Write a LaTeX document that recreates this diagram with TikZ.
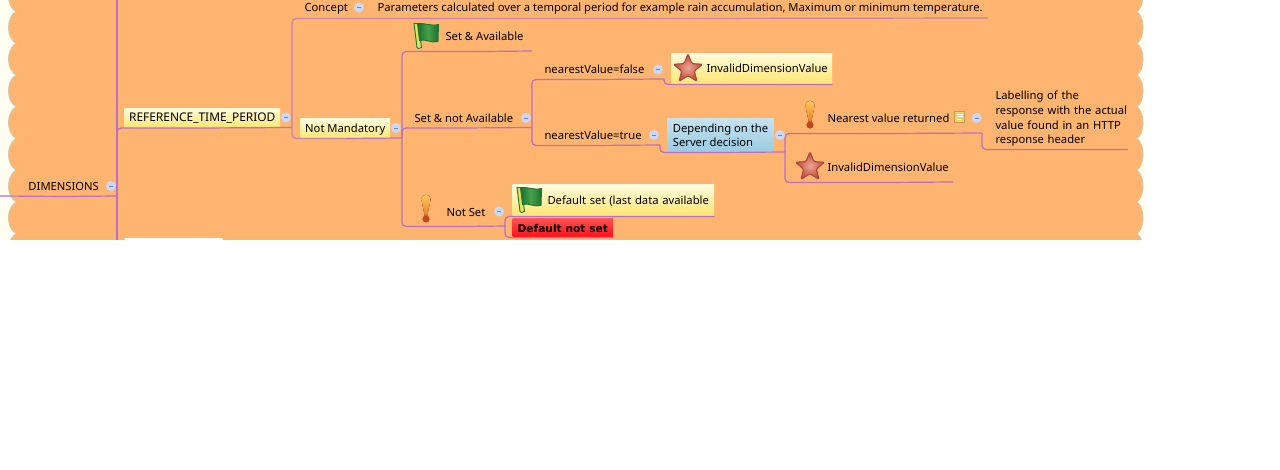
\documentclass[tikz,border=0pt]{standalone}
\usepackage{fontspec}
\setmainfont{Noto Sans}
\newfontfamily\heavyfont{DejaVu Sans}
\usetikzlibrary{shapes.geometric}

\definecolor{sheet}{RGB}{255,254,240}
\definecolor{topicbg}{RGB}{255,181,112}
\definecolor{rim}{RGB}{214,200,176}
\definecolor{branchcol}{RGB}{184,112,196}
\definecolor{branchrose}{RGB}{196,128,176}
\definecolor{boxtop}{RGB}{255,251,220}
\definecolor{boxbot}{RGB}{255,230,112}
\definecolor{bluetop}{RGB}{197,226,239}
\definecolor{bluebot}{RGB}{154,203,226}
\definecolor{redtop}{RGB}{255,80,80}
\definecolor{redmid}{RGB}{255,0,16}
\definecolor{redbot}{RGB}{255,16,24}
\definecolor{minusfill}{RGB}{200,216,248}
\definecolor{starmid}{RGB}{236,168,148}
\definecolor{staredge}{RGB}{190,66,50}
\definecolor{starline}{RGB}{168,72,64}
\definecolor{flagdark}{RGB}{24,112,50}
\definecolor{flagmid}{RGB}{72,160,72}
\definecolor{flagline}{RGB}{32,116,52}
\definecolor{poleyellow}{RGB}{232,224,96}
\definecolor{warntop}{RGB}{255,204,100}
\definecolor{warnbot}{RGB}{232,120,32}
\definecolor{warndot}{RGB}{192,72,32}
\definecolor{notefill}{RGB}{240,208,110}
\definecolor{noteline}{RGB}{192,160,80}

\newcommand{\labelfont}{\fontsize{8.42}{11}\selectfont}

\tikzset{every picture/.style={line width=0.75pt}}
\tikzset{
  every pic/.style={yscale=-1},
  wh/.style 2 args={minimum width=#1*0.75pt,minimum height=#2*0.75pt},
  topic/.style={anchor=west,inner sep=0pt,text height=8.25pt,text depth=0.75pt,font=\labelfont,minimum height=#1*0.75pt},
  yellowbox/.style={anchor=west,inner sep=0pt,text height=7.5pt,text depth=1.5pt,top color=boxtop,bottom color=boxbot,font=\labelfont},
  bluebox/.style={anchor=west,inner sep=0pt,top color=bluetop,bottom color=bluebot,font=\labelfont,align=left},
  redbox/.style={anchor=west,inner sep=0pt,text height=7.5pt,text depth=0pt,top color=redtop,middle color=redmid,bottom color=redbot,font=\heavyfont\fontsize{8}{10}\selectfont\bfseries},
  branch/.style={draw=branchcol,line width=0.9pt,rounded corners=3pt},
  branchb/.style={draw=branchrose,line width=0.9pt,rounded corners=3pt},
  minusdot/.style={circle,inner sep=0pt,minimum size=7.5pt,fill=minusfill,draw=none,
    path picture={\draw[blue!30!black!50!white,line width=0.6pt] (path picture bounding box.center)+(-1.5pt,0) -- +(1.5pt,0);}},
  staricon/.style={star,star points=5,star point ratio=2.3,inner sep=0pt,minimum size=23pt,rounded corners=1pt,
    draw=starline,line width=0.8pt,inner color=starmid,outer color=staredge},
  pics/flagicon/.style={code={
    \draw[draw=flagline,fill=poleyellow,line width=0.7pt] (0.5,1) -- (5,1) -- (8,25) -- (5,26) -- (3.5,25) -- cycle;
    \draw[draw=flagline,left color=flagdark,right color=flagdark,middle color=flagmid,line width=0.7pt]
      (4,1) .. controls (10,0) and (17,4) .. (25,2) -- (24.5,19) .. controls (18,21) and (12,16) .. (6,18) -- cycle;
  }},
  pics/warnicon/.style={code={
    \fill[top color=warntop,bottom color=warnbot] (-4.5,-10) .. controls (-4.5,-15.5) and (4.5,-15.5) .. (4.5,-10) .. controls (4,-4) and (1.8,2) .. (1.3,8) -- (-1.3,8) .. controls (-1.8,2) and (-4,-4) .. (-4.5,-10) -- cycle;
    \fill[warndot] (0,10) circle [radius=3.6];
  }},
  pics/noteicon/.style={code={
    \draw[draw=noteline,fill=notefill,line width=0.6pt] (0,0) rectangle (10,11);
    \draw[white,line width=0.6pt] (2,3) -- (8,3) (2,5.5) -- (8,5.5) (2,8) -- (6,8);
  }}
}

\begin{document}
\begin{tikzpicture}[x=0.75pt,y=0.75pt,yscale=-1,xscale=1]
\useasboundingbox (0,0) rectangle (1280,470);
\begin{scope}
\clip (0,0) rectangle (1280,240);
%Shape: sheet and scallops
\fill[sheet] (0,0) rectangle (1146,240);
\fill[topicbg] (16,-20) rectangle (1137,250);
\foreach \ytop in {-20,11.7,43.4,75.1,106.8,138.5,170.2,201.9,233.6}{
  \draw[draw=rim,fill=topicbg] (16,\ytop) .. controls (6,\ytop+6) and (6,\ytop+25.7) .. (16,\ytop+31.7);
  \draw[draw=rim,fill=topicbg] (1137,\ytop) .. controls (1145,\ytop+6) and (1145,\ytop+25.7) .. (1137,\ytop+31.7);
}

% Text Node
\node[topic=20] (dims) at (28,186) {DIMENSIONS};
\node[yellowbox,wh={155.5}{19},font=\fontsize{8.95}{11}\selectfont] (rtp) at (124,118) {REFERENCE\_TIME\_PERIOD};
\node[topic=22] (concept) at (304,7) {Concept};
\node[topic=22] (params) at (377,7) {Parameters calculated over a temporal period for example rain accumulation, Maximum or minimum temperature.};
\node[yellowbox,wh={89.5}{19}] (notMand) at (300,128.5) {Not Mandatory};
\node[topic=30] (setAvail) at (445,36) {Set \& Available};
\node[topic=19] (setNot) at (414,118) {Set \& not Available};
\node[topic=28] (notSet) at (446,212) {Not Set};
\node[topic=20] (nearFalse) at (544,69) {nearestValue=false};
\node[topic=20] (nearTrue) at (544,135) {nearestValue=true};
\node[yellowbox,wh={160.5}{30},text width=120.4pt,align=left] (invalidA) at (671,69) {\hspace*{26.25pt}InvalidDimensionValue};
\node[bluebox,wh={106}{33.5}] (depend) at (667,135.25) {Depending on the\\Server decision};
\node[topic=30] (nearest) at (827,118) {Nearest value returned};
\node[topic=30] (invalidB) at (827,167) {InvalidDimensionValue};
\node[anchor=west,inner sep=0pt,text width=99pt,minimum height=45pt,font=\labelfont,align=left] (labelling) at (995,119) {Labelling of the\\response with the actual\\value found in an HTTP\\response header};
\node[yellowbox,wh={201.5}{31},text width=151.1pt,align=left] (defaultSet) at (512,200.5) {\hspace*{26.25pt}Default set (last data available};
\node[redbox,wh={100.5}{18}] (defaultNot) at (512,228) {Default not set};
\node[yellowbox,wh={98}{14},top color=white,bottom color=white] (nextTopic) at (124,246) {};

% Forks
\coordinate (dimsStart) at (0,196);
\coordinate (forkDim) at (117,196);
\coordinate (dimTop) at (117,-5);
\coordinate (dimBottom) at (117,245);
\coordinate (forkRtp) at (292,127.5);
\coordinate (paramsEnd) at (988,18);
\coordinate (forkMand) at (402,138);
\coordinate (setAvailEnd) at (532,51);
\coordinate (forkSetNot) at (532,127.5);
\coordinate (forkNotSet) at (505,226);
\coordinate (forkFalse) at (664,79);
\coordinate (forkTrue) at (660,145);
\coordinate (forkDep) at (785,152);
\coordinate (forkNear) at (982,133);
\coordinate (invalidBEnd) at (953,182);

%Straight Lines
\draw[branch] (dimsStart) -- (dims.south) -- (forkDim);
\draw[branch] (dimTop) -- (dimBottom);
\draw[branch] (forkDim) |- (rtp.south) -- (forkRtp);
\draw[branchb] (forkRtp) |- (concept.south) -- (params.south) -- (paramsEnd);
\draw[branchb] (forkRtp) |- (notMand.south);
\draw[branch] (notMand.south) -- (forkMand);
\draw[branch] (forkMand) |- (setAvail.south) -- (setAvailEnd);
\draw[branch] (forkMand) |- (setNot.south) -- (forkSetNot);
\draw[branch] (forkMand) |- (notSet.south) -- (forkNotSet);
\draw[branch] (forkSetNot) |- (nearFalse.south) -- (forkFalse);
\draw[branch] (forkSetNot) |- (nearTrue.south) -- (forkTrue);
\draw[branch] (forkFalse) |- (invalidA.south) -- (invalidA.south east);
\draw[branch] (forkTrue) |- (depend.south) -- (forkDep);
\draw[branch] (forkDep) |- (nearest.south) -- (forkNear);
\draw[branch] (forkDep) |- (invalidB.south) -- (invalidBEnd);
\draw[branch] (forkNear) |- (labelling.south) -- (labelling.south east);
\draw[branch] (forkNotSet) |- (defaultSet.south) -- (defaultSet.south east);
\draw[branch] (forkNotSet) |- (defaultNot.south) -- (defaultNot.south east);

%Shape: collapse marks
\node[minusdot] (minusDims) at (111,186) {};
\node[minusdot] (minusRtp) at (286,117.5) {};
\node[minusdot] (minusConcept) at (359,7.5) {};
\node[minusdot] (minusMand) at (396,128) {};
\node[minusdot] (minusSetNot) at (526,118) {};
\node[minusdot] (minusNotSet) at (499,211.5) {};
\node[minusdot] (minusFalse) at (658,69.5) {};
\node[minusdot] (minusTrue) at (654,135) {};
\node[minusdot] (minusDep) at (780,135) {};
\node[minusdot] (minusNear) at (976.5,118) {};

%Shape: icons
\pic at (413.5,22.5) {flagicon};
\pic at (516.5,186.5) {flagicon};
\pic at (426,209) {warnicon};
\pic at (810,115) {warnicon};
\pic at (954.5,111) {noteicon};
\node[staricon] (starA) at (688,69) {};
\node[staricon] (starB) at (810,167) {};
\end{scope}
\end{tikzpicture}
\end{document}
